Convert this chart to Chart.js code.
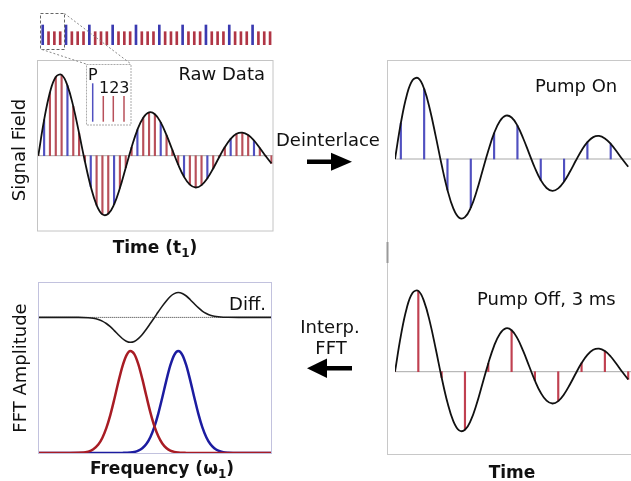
<!DOCTYPE html>
<html><head><meta charset="utf-8">
<script src="https://cdn.jsdelivr.net/npm/chart.js@4.4.1/dist/chart.umd.min.js"></script>
<style>
html,body{margin:0;padding:0;background:#fff;}
#wrap{position:relative;width:631px;height:481px;overflow:hidden;background:#fff;font-family:"DejaVu Sans",sans-serif;}
canvas{position:absolute;}
svg{position:absolute;left:0;top:0;}
</style></head><body>
<div id="wrap">
<canvas id="strip" width="239" height="25" style="left:37px;top:20px"></canvas>
<canvas id="raw" width="235" height="171" style="left:38px;top:60px"></canvas>
<canvas id="pon" width="236" height="190" style="left:395px;top:61px"></canvas>
<canvas id="poff" width="236" height="191" style="left:395px;top:262px"></canvas>
<canvas id="fft" width="234" height="171" style="left:38px;top:283px"></canvas>
<svg width="631" height="481" font-family="DejaVu Sans" fill="#111">
 <rect x="37.5" y="60.5" width="235.5" height="170.5" fill="none" stroke="#c4c4c4"/>
 <rect x="38.5" y="282.5" width="233" height="171" fill="none" stroke="#c2c2de"/>
 <line x1="387.5" y1="60.5" x2="631" y2="60.5" stroke="#c8c8c8"/>
 <line x1="387.5" y1="60" x2="387.5" y2="455" stroke="#c8c8c8"/>
 <line x1="387.5" y1="454.5" x2="631" y2="454.5" stroke="#c8c8c8"/>
 <rect x="386.5" y="242" width="2" height="21" fill="#9a9a9a"/>
 <rect x="40.5" y="13.5" width="24" height="36" fill="none" stroke="#666" stroke-dasharray="3,2"/>
 <line x1="64.5" y1="13.5" x2="131" y2="64" stroke="#888" stroke-dasharray="2,2"/>
 <line x1="42" y1="49.5" x2="86" y2="64" stroke="#888" stroke-dasharray="2,2"/>
 <rect x="86.5" y="64.5" width="44.5" height="60.5" fill="#fff" stroke="#aaa" stroke-dasharray="2,1"/>
 <text x="88" y="80" font-size="16">P</text>
 <text x="99" y="92.7" font-size="16">123</text>
 <line x1="92.7" y1="83.3" x2="92.7" y2="121.7" stroke="#5050c0" stroke-width="1.5"/>
 <line x1="103.3" y1="96" x2="103.3" y2="121.7" stroke="#b8505a" stroke-width="1.5"/>
 <line x1="113.3" y1="96" x2="113.3" y2="121.7" stroke="#b8505a" stroke-width="1.5"/>
 <line x1="124" y1="96" x2="124" y2="121.7" stroke="#b8505a" stroke-width="1.5"/>
 <text x="265" y="79.5" font-size="18" text-anchor="end">Raw Data</text>
 <text x="535" y="92" font-size="18">Pump On</text>
 <text x="477" y="305" font-size="18">Pump Off, 3 ms</text>
 <text x="266" y="310" font-size="18" text-anchor="end">Diff.</text>
 <text x="276" y="146" font-size="18">Deinterlace</text>
 <text x="330" y="333" font-size="18" text-anchor="middle">Interp.</text>
 <text x="331" y="354" font-size="18" text-anchor="middle">FFT</text>
 <text transform="translate(25,150) rotate(-90)" font-size="18" text-anchor="middle">Signal Field</text>
 <text transform="translate(26,368) rotate(-90)" font-size="18" text-anchor="middle">FFT Amplitude</text>
 <text x="155" y="253" font-size="17" font-weight="bold" text-anchor="middle">Time (t<tspan font-size="12" dy="4">1</tspan><tspan dy="-4">)</tspan></text>
 <text x="162" y="474" font-size="17" font-weight="bold" text-anchor="middle">Frequency (ω<tspan font-size="12" dy="4">1</tspan><tspan dy="-4">)</tspan></text>
 <text x="512" y="477.5" font-size="17" font-weight="bold" text-anchor="middle">Time</text>
 <rect x="307" y="159.5" width="26" height="4.5" fill="#000"/>
 <polygon points="331,152.7 352,161.7 331,170.7" fill="#000"/>
 <rect x="325" y="366" width="27" height="4.5" fill="#000"/>
 <polygon points="307,368.3 327,358.5 327,378" fill="#000"/>
</svg>
</div>
<script>
// ---- data ----
const sampleIdx = [0,1,2,3,4,5,6,7,8,9,10,11,12,13,14,15,16,17,18,19,20,21,22,23,24,25,26,27,28,29,30,31,32,33,34,35,36,37,38,39,40];
const signal = [0,35.8,63.3,78.8,80.8,70.1,49.3,22.4,-5.8,-30.9,-49.4,-58.7,-58.1,-48.7,-32.3,-12.0,8.3,25.9,38.0,43.3,41.5,33.3,20.5,5.7,-9.0,-21.1,-29.0,-31.8,-29.4,-22.6,-12.8,-1.8,8.6,16.9,21.9,23.1,20.6,15.2,7.7,-0.3,-7.7];
const channels = ['P','1','2','3'];
const stripCount = 40;
const freqX = [0,20,40,50,55,60,64,68,72,76,80,84,88,92,96,100,104,108,112,116,120,124,128,132,136,140,144,148,152,156,160,164,168,172,176,180,185,190,200,215,233];
const fftPumpOff = [0,0,0.2,1.4,3.7,8.4,15.0,24.8,37.9,53.8,70.8,86.2,97.4,102.0,98.9,88.9,74.1,57.2,40.9,27.1,16.7,9.5,5.0,2.4,1.1,0.5,0.2,0.1,0,0,0,0,0,0,0,0,0,0,0,0,0];
const fftPumpOn = [0,0,0,0,0,0,0,0,0,0,0,0.1,0.2,0.4,1.0,2.3,4.7,8.9,15.8,25.9,39.4,55.5,72.4,87.6,98.2,102.0,98.2,87.6,72.4,55.5,39.4,25.9,15.8,8.9,4.7,2.3,0.8,0.3,0,0,0];
const fftDiff = [135.6,135.6,135.6,135.3,134.7,133.5,131.9,129.5,126.3,122.4,118.3,114.5,111.8,110.7,111.6,114.4,118.6,123.8,129.5,135.3,141.2,146.9,152.1,156.5,159.4,160.5,159.6,157.0,153.3,149.2,145.3,141.9,139.5,137.8,136.8,136.2,135.8,135.7,135.6,135.6,135.6];
const fftDiffBase = 135.6;

// ---- helpers ----
const chanOf = i => channels[(i + 3) % 4];
const BLUE = '#5050c0', RED = '#b8505a';
function mk(id, datasets, xmin, xmax, ymin, ymax) {
  return new Chart(document.getElementById(id), {
    type: 'line',
    data: { datasets },
    options: {
      responsive: false, animation: false, devicePixelRatio: 1, events: [],
      layout: { padding: 0 },
      plugins: { legend: { display: false }, tooltip: { enabled: false } },
      scales: {
        x: { type: 'linear', min: xmin, max: xmax, display: false, offset: false },
        y: { type: 'linear', min: ymin, max: ymax, display: false }
      },
      elements: { point: { radius: 0 } }
    }
  });
}
const curvePts = sampleIdx.map((x, i) => ({ x, y: signal[i] }));
const curveDs = () => ({ type: 'line', data: curvePts, borderColor: '#111', borderWidth: 1.8, tension: 0.4, pointRadius: 0, order: 0 });
const zeroDs = (a, b) => ({ type: 'line', data: [{ x: a, y: 0 }, { x: b, y: 0 }], borderColor: '#a8a8a8', borderWidth: 1, pointRadius: 0, order: 3 });
const stems = (filter, color, w) => ({ type: 'bar', data: sampleIdx.filter((x, i) => filter(chanOf(i))).map(x => ({ x, y: signal[x] })), backgroundColor: color, barThickness: w, grouped: false, borderWidth: 0, order: 2 });

// top strip
const stripK = Array.from({ length: stripCount }, (_, k) => k);
mk('strip', [
  { type: 'bar', data: stripK.filter(k => channels[k % 4] === 'P').map(k => ({ x: k, y: 20 })), backgroundColor: '#3a3ab0', barThickness: 2, grouped: false, borderWidth: 0 },
  { type: 'bar', data: stripK.filter(k => channels[k % 4] !== 'P').map(k => ({ x: k, y: 13.3 })), backgroundColor: '#b03545', barThickness: 2, grouped: false, borderWidth: 0 }
], -0.978, 40.017, 0, 25);

// raw data
mk('raw', [curveDs(), stems(c => c === 'P', BLUE, 1.5), stems(c => c !== 'P', RED, 1.5), zeroDs(-0.05, 40.26)], -0.05, 40.26, -75.3, 95.7);
// pump on
mk('pon', [curveDs(), stems(c => c === 'P', BLUE, 1.5), zeroDs(0, 40.48)], 0, 40.48, -92, 98);
// pump off
mk('poff', [curveDs(), stems(c => c === '3', '#c04050', 1.5), zeroDs(0, 40.48)], 0, 40.48, -81.3, 109.7);
// fft
const fx = (arr) => freqX.map((x, i) => ({ x, y: arr[i] }));
mk('fft', [
  { type: 'line', data: fx(fftDiff), borderColor: '#1a1a1a', borderWidth: 1.6, cubicInterpolationMode: 'monotone', pointRadius: 0, order: 0 },
  { type: 'line', data: [{ x: 0, y: fftDiffBase }, { x: 233.7, y: fftDiffBase }], borderColor: '#333', borderWidth: 1, borderDash: [1, 1], pointRadius: 0, order: 1 },
  { type: 'line', data: fx(fftPumpOff), borderColor: '#a81c24', borderWidth: 2.5, cubicInterpolationMode: 'monotone', pointRadius: 0, order: 2 },
  { type: 'line', data: fx(fftPumpOn), borderColor: '#1c1ca0', borderWidth: 2.5, cubicInterpolationMode: 'monotone', pointRadius: 0, order: 3 }
], -0.3, 233.7, -1, 170);
</script>
</body></html>
